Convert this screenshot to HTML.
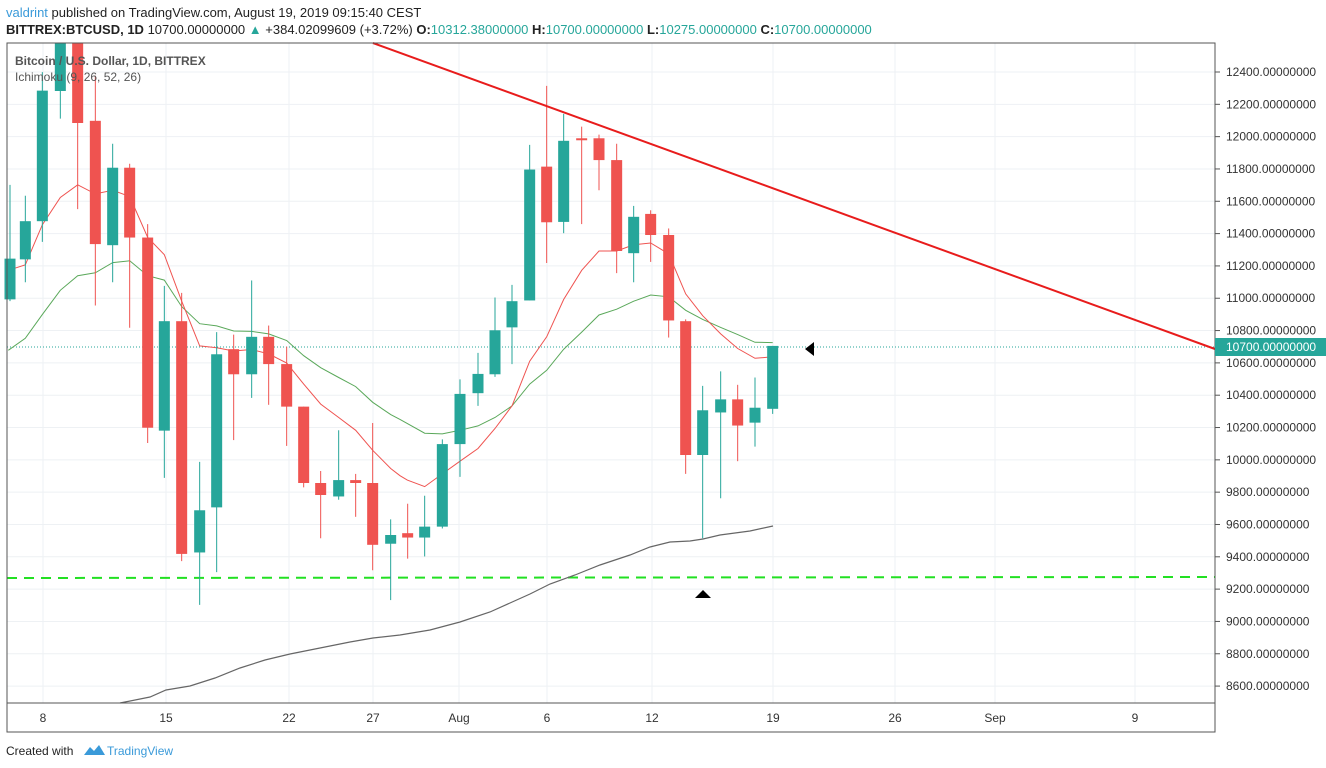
<!DOCTYPE html>
<html><head><meta charset="utf-8"><style>
body{margin:0;width:1326px;height:768px;background:#fff;overflow:hidden;font-family:"Liberation Sans",sans-serif}
svg{position:absolute;left:0;top:0}
</style></head><body>
<svg id="s" width="1326" height="768" xmlns="http://www.w3.org/2000/svg" font-family="Liberation Sans, sans-serif">
<text x="6" y="17" font-size="13"><tspan fill="#3a9ad9">valdrint</tspan><tspan fill="#222"> published on TradingView.com, August 19, 2019 09:15:40 CEST</tspan></text>
<text x="6" y="34" font-size="13" font-weight="bold" fill="#222">BITTREX:BTCUSD, 1D <tspan font-weight="normal">10700.00000000 </tspan><tspan fill="#26a69a">▲</tspan><tspan font-weight="normal"> +384.02099609 (+3.72%) </tspan>O:<tspan font-weight="normal" fill="#26a69a">10312.38000000 </tspan>H:<tspan font-weight="normal" fill="#26a69a">10700.00000000 </tspan>L:<tspan font-weight="normal" fill="#26a69a">10275.00000000 </tspan>C:<tspan font-weight="normal" fill="#26a69a">10700.00000000</tspan></text>
<g id="grid"></g>
<g id="plot"></g>
<rect x="7" y="43" width="1208" height="660" fill="none" stroke="#555" stroke-width="1"/>
<rect x="7" y="703" width="1208" height="29" fill="none" stroke="#555" stroke-width="1"/>
<line x1="1215" y1="43" x2="1215" y2="732" stroke="#555"/>
<g id="axis" font-size="12" fill="#333"></g>
<text x="15" y="65" font-size="12" font-weight="bold" fill="#555">Bitcoin / U.S. Dollar, 1D, BITTREX</text>
<text x="15" y="81" font-size="12" fill="#555">Ichimoku (9, 26, 52, 26)</text>
<text x="6" y="755" font-size="12" fill="#222">Created with</text>
<path d="M84 755 l6 -8 l4 4 l5 -6 l6 10 z" fill="#3a9ad9"/>
<text x="107" y="755" font-size="12" fill="#3a9ad9">TradingView</text>
</svg>
<script>
const NS="http://www.w3.org/2000/svg";
function el(p,t,a,txt){const e=document.createElementNS(NS,t);for(const k in a)e.setAttribute(k,a[k]);if(txt!==undefined)e.textContent=txt;document.getElementById(p).appendChild(e);return e;}
function Y(z){return 43+(z-10)/2.75;}
// grid & price labels
for(let i=0;i<=19;i++){const p=12400-200*i;const y=72+i*32.32;
 el('grid','line',{x1:7,x2:1215,y1:y,y2:y,stroke:'#eef1f4'});
 el('axis','line',{x1:1215,x2:1220,y1:y,y2:y,stroke:'#555'});
 el('axis','text',{x:1226,y:y+4},p+'.00000000');}
const dates=[[43,'8'],[166,'15'],[289,'22'],[373,'27'],[459,'Aug'],[547,'6'],[652,'12'],[773,'19'],[895,'26'],[995,'Sep'],[1135,'9']];
for(const [x,l] of dates){el('grid','line',{x1:x,x2:x,y1:43,y2:703,stroke:'#eef1f4'});
 el('axis','text',{x:x,y:722,'text-anchor':'middle'},l);}
// dashed support
el('plot','line',{x1:7,x2:1215,y1:578,y2:577,stroke:'#22e022','stroke-width':2,'stroke-dasharray':'10,7'});
// dotted price
el('plot','line',{x1:7,x2:1215,y1:347,y2:347,stroke:'#26a69a','stroke-dasharray':'1,2'});
// gray line
const gray=[[120,703],[150,697],[166,690],[190,686],[215,678],[240,668],[265,660],[290,654],[320,648],[350,642],[373,638],[400,635],[430,630],[460,622],[490,612],[510,603],[530,594],[550,584],[575,575],[600,565],[630,555],[650,547],[670,542],[690,541],[703,539],[720,535],[750,531],[773,526]];
el('plot','polyline',{points:gray.map(p=>p.join(',')).join(' '),fill:'none',stroke:'#666','stroke-width':1.2});
// tenkan/kijun
const t1=[[25,635],[76,620],[127,510],[181,435],[233,400],[286,425],[338,415],[389,432],[443,545],[493,592],[545,720],[599,843],[650,848],[701,857],[755,853],[806,865],[860,890],[911,948],[962,1003],[1016,1040],[1067,1075],[1118,1130],[1172,1180],[1200,1200]];
const t2=[[22,1212],[74,1230],[127,1195],[180,1160],[234,1125],[285,1070],[336,1008],[389,885],[440,818],[491,715],[545,635],[597,582],[650,582],[701,565],[752,560],[806,590],[857,700],[908,760],[962,810],[1013,850],[1065,877],[1118,873]];
const k1=[[25,855],[76,822],[127,757],[181,690],[233,650],[286,642],[338,614],[389,609],[443,650],[493,662],[545,735],[599,782],[650,788],[701,802],[755,803],[806,810],[860,828],[911,870],[962,903],[1016,930],[1067,955],[1118,998],[1172,1032],[1200,1045]];
const k2=[[0,1045],[74,1083],[127,1085],[180,1075],[234,1063],[285,1040],[336,1008],[389,948],[440,910],[491,852],[545,805],[597,758],[650,742],[701,720],[752,703],[806,708],[857,745],[908,770],[962,792],[1013,812],[1065,833],[1118,834]];
function pts(a,off){return a.map(p=>(off+p[0]/3).toFixed(1)+','+Y(p[1]).toFixed(1)).join(' ');}
el('plot','polyline',{points:pts(k1,0)+' '+pts(k2,400),fill:'none',stroke:'#5aa85a','stroke-width':1});
el('plot','polyline',{points:pts(t1,0)+' '+pts(t2,400),fill:'none',stroke:'#ef5350','stroke-width':1});
// candles [zx, G/R, bt, bb, hi, lo, zoom]
const c=[[30,'G',603,715,400,720,0],[76,'G',500,605,430,668,0],[127,'G',141,500,90,557,0],[181,'G',-10,142,-10,218,0],[233,'R',-10,230,-10,467,0],[286,'R',224,563,100,732,0],[338,'G',353,566,287,668,0],[389,'R',353,545,342,793,0],[443,'R',545,1068,508,1110,0],[493,'G',775,1076,678,1206,0],[545,'R',775,1415,697,1435,0],[599,'G',1295,1411,1162,1555,0],[650,'G',866,1287,805,1465,0],[701,'R',852,921,812,1102,0],[755,'G',818,921,663,986,0],[806,'R',818,893,787,1005,0],[860,'R',893,1010,845,1118,0],[911,'R',1010,1220,1010,1232,0],[962,'R',1220,1253,1187,1372,0],[1016,'G',1212,1257,1075,1266,0],[1067,'R',1212,1220,1195,1313,0],[1118,'R',1220,1390,1055,1460,0],[1172,'G',1363,1387,1320,1542,0],[1223,'R',1358,1370,1277,1428,0],
[74,'G',1340,1370,1255,1422,1],[127,'G',1113,1340,1100,1345,1],[180,'G',975,1113,935,1203,1],[234,'G',920,973,862,1008,1],[285,'G',800,921,710,928,1],[336,'G',720,792,675,893,1],[389,'G',358,718,290,718,1],[440,'R',350,503,128,615,1],[491,'G',279,502,205,533,1],[545,'R',272,277,240,508,1],[597,'R',272,332,262,415,1],[650,'R',332,582,287,643,1],[701,'G',488,588,458,668,1],[752,'R',480,538,470,612,1],[806,'R',538,773,520,820,1],[857,'R',775,1143,770,1195,1],[908,'G',1020,1143,953,1372,1],[962,'G',990,1026,913,1262,1],[1013,'R',990,1062,950,1160,1],[1065,'G',1013,1054,930,1120,1],[1118,'G',843,1016,843,1030,1]];
for(const d of c){const x=(d[6]?400:0)+d[0]/3;const col=d[1]=='G'?'#26a69a':'#ef5350';
 const hi=Math.max(43,Y(d[4])),lo=Y(d[5]),bt=Math.max(43,Y(d[2])),bb=Y(d[3]);
 el('plot','line',{x1:x,x2:x,y1:hi,y2:lo,stroke:col,'stroke-width':1});
 el('plot','rect',{x:x-5.5,y:bt,width:11,height:Math.max(2,bb-bt),fill:col});}
// trend line
el('plot','line',{x1:373,y1:43,x2:1215,y2:349,stroke:'#e81c1c','stroke-width':2});
// markers
el('plot','path',{d:'M805 349 L814 342 L814 356 Z',fill:'#000'});
el('plot','path',{d:'M695 598 L703 590 L711 598 Z',fill:'#000'});
// price label
el('axis','rect',{x:1215,y:338,width:111,height:18,fill:'#26a69a'});
el('axis','text',{x:1226,y:351,fill:'#fff'},'10700.00000000');
</script>
</body></html>
